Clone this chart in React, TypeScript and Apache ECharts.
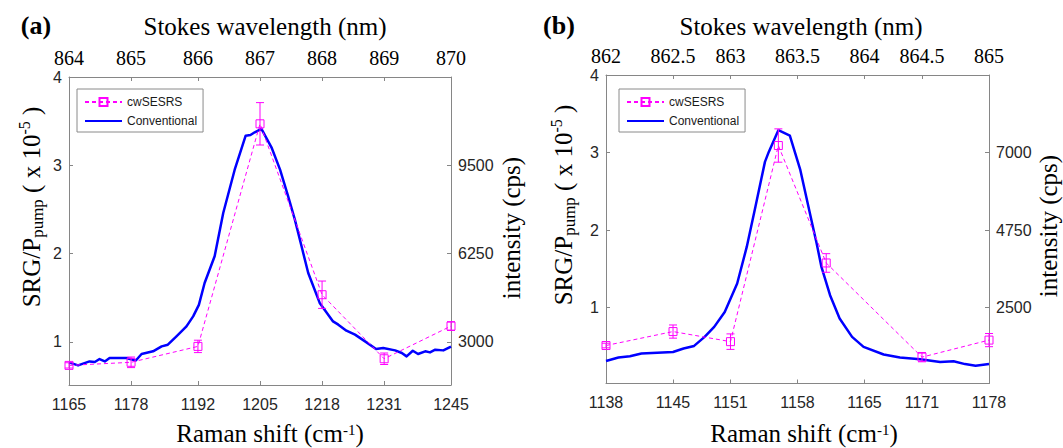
import React, { useEffect, useRef } from 'react';
import * as echarts from 'echarts';

// ---------- Panel (a) ----------
const ramanTicksA = [1165, 1178, 1192, 1205, 1218, 1231, 1245];
const wavelengthLabelsA = ['864', '865', '866', '867', '868', '869', '870'];
const leftTicksA = [1, 2, 3, 4];
const rightTicksA = [3000, 6250, 9500];

const cwRamanA = [1165, 1178, 1192, 1205, 1218, 1231, 1245];
const cwValueA = [0.735, 0.77, 0.95, 3.47, 1.535, 0.81, 1.18];
const cwErrA = [0.03, 0.06, 0.07, 0.24, 0.155, 0.065, 0.05];

const convRamanA = [1165.0, 1166.9, 1169.3, 1170.4, 1171.4, 1172.5, 1173.5, 1177.0, 1179.0, 1180.2, 1182.6, 1184.4, 1185.7, 1187.5, 1189.6, 1191.0, 1192.2, 1193.4, 1195.5, 1197.3, 1199.7, 1202.0, 1203.0, 1203.9, 1205.3, 1207.4, 1209.2, 1210.9, 1212.3, 1213.7, 1215.1, 1217.5, 1220.3, 1221.4, 1223.1, 1224.9, 1227.0, 1229.3, 1230.8, 1233.3, 1234.7, 1235.7, 1237.0, 1238.1, 1239.6, 1240.6, 1241.7, 1243.4, 1245.0];
const convCpsA = [2249, 2139, 2285, 2262, 2373, 2285, 2412, 2412, 2318, 2558, 2656, 2838, 2899, 3205, 3575, 3943, 4365, 5171, 6153, 7745, 9338, 10592, 10618, 10716, 10839, 10163, 9341, 8359, 7501, 6520, 5538, 4437, 3757, 3637, 3416, 3270, 3023, 2743, 2779, 2691, 2594, 2470, 2678, 2558, 2656, 2617, 2717, 2691, 2830];

// ---------- Panel (b) ----------
const ramanTicksB = [1138, 1145, 1151, 1158, 1165, 1171, 1178];
const wavelengthLabelsB = ['862', '862.5', '863', '863.5', '864', '864.5', '865'];
const leftTicksB = [1, 2, 3, 4];
const rightTicksB = [2500, 4750, 7000];

const cwRamanB = [1138, 1145, 1151, 1156, 1161, 1171, 1178];
const cwValueB = [0.51, 0.69, 0.56, 3.09, 1.575, 0.36, 0.58];
const cwErrB = [0.03, 0.085, 0.1, 0.215, 0.12, 0.06, 0.085];

const convRamanB = [1138.0, 1139.3, 1140.5, 1141.7, 1142.8, 1145.0, 1146.1, 1147.2, 1148.3, 1149.3, 1150.4, 1151.7, 1152.7, 1153.6, 1154.6, 1155.0, 1156.0, 1157.2, 1158.3, 1159.3, 1160.0, 1160.5, 1161.4, 1162.4, 1163.7, 1164.9, 1167.0, 1168.7, 1170.8, 1172.9, 1174.3, 1175.5, 1176.6, 1178.0];
const convCpsB = [950, 1049, 1087, 1164, 1182, 1211, 1310, 1386, 1647, 1938, 2372, 3198, 4260, 5421, 6728, 7018, 7648, 7493, 6487, 5229, 4359, 3679, 2858, 2181, 1647, 1357, 1137, 1049, 999, 921, 941, 858, 813, 858];

// ---------- Styles ----------
const AXIS_COLOR = '#868686';
const LABEL_COLOR = '#262626';
const MAGENTA = '#ff00ff';
const BLUE = '#0000ff';
const SANS = "'Liberation Sans', Arial, sans-serif";
const SERIF = "'Liberation Serif', 'Times New Roman', serif";

const axisLine = { show: true, onZero: false, lineStyle: { color: AXIS_COLOR, width: 1 } };
const plain = (v: number) => String(v);

function bottomAxis(grid: number, min: number, max: number, ticks: number[]) {
  return {
    type: 'value', gridIndex: grid, position: 'bottom', min, max,
    axisLine,
    axisTick: { show: true, inside: true, length: 4, customValues: ticks, lineStyle: { color: AXIS_COLOR } },
    axisLabel: { show: true, customValues: ticks, formatter: plain, margin: 11, fontSize: 16, fontFamily: SANS, color: LABEL_COLOR },
    splitLine: { show: false },
  };
}

function topAxis(grid: number, min: number, max: number, ticks: number[], labels: string[]) {
  return {
    type: 'value', gridIndex: grid, position: 'top', min, max,
    axisLine,
    axisTick: { show: true, inside: true, length: 4, customValues: ticks, lineStyle: { color: AXIS_COLOR } },
    axisLabel: {
      show: true, customValues: ticks, margin: 9, fontSize: 20, fontFamily: SERIF, color: '#000',
      formatter: (v: number) => {
        const i = ticks.findIndex((t) => Math.abs(t - v) < 1e-6);
        return i >= 0 ? labels[i] : '';
      },
    },
    splitLine: { show: false },
  };
}

function yAxisDef(grid: number, pos: 'left' | 'right', min: number, max: number, ticks: number[]) {
  return {
    type: 'value', gridIndex: grid, position: pos, min, max,
    axisLine,
    axisTick: { show: true, inside: true, length: 4, customValues: ticks, lineStyle: { color: AXIS_COLOR } },
    axisLabel: { show: true, customValues: ticks, formatter: plain, margin: 7, fontSize: 16, fontFamily: SANS, color: LABEL_COLOR },
    splitLine: { show: false },
  };
}

const errRender = (params: any, api: any) => {
  const x = api.value(0);
  const y = api.value(1);
  const e = api.value(2);
  const p1 = api.coord([x, y + e]);
  const p2 = api.coord([x, y - e]);
  const w = 4;
  const style = { stroke: MAGENTA, lineWidth: 1 };
  return {
    type: 'group',
    children: [
      { type: 'line', shape: { x1: p1[0], y1: p1[1], x2: p2[0], y2: p2[1] }, style },
      { type: 'line', shape: { x1: p1[0] - w, y1: p1[1], x2: p1[0] + w, y2: p1[1] }, style },
      { type: 'line', shape: { x1: p2[0] - w, y1: p2[1], x2: p2[0] + w, y2: p2[1] }, style },
    ],
  };
};

function panelSeries(xIdx: number, yLeft: number, yRight: number, cwR: number[], cwV: number[], cwE: number[], convR: number[], convC: number[]) {
  return [
    {
      name: 'Conventional', type: 'line', xAxisIndex: xIdx, yAxisIndex: yRight,
      data: convR.map((r, i) => [r, convC[i]]),
      symbol: 'none', lineStyle: { color: BLUE, width: 2.5, join: 'round' }, itemStyle: { color: BLUE },
      silent: true, z: 2,
    },
    {
      name: 'cwSESRS', type: 'line', xAxisIndex: xIdx, yAxisIndex: yLeft,
      data: cwR.map((r, i) => [r, cwV[i]]),
      symbol: 'rect', symbolSize: 8,
      lineStyle: { color: MAGENTA, width: 1, type: [4, 3] },
      itemStyle: { color: 'rgba(255,255,255,0)', borderColor: MAGENTA, borderWidth: 1 },
      silent: true, z: 3,
    },
    {
      type: 'custom', xAxisIndex: xIdx, yAxisIndex: yLeft,
      data: cwR.map((r, i) => [r, cwV[i], cwE[i]]),
      encode: { x: 0, y: 1 },
      renderItem: errRender, silent: true, z: 3,
    },
  ];
}

const legendBase = {
  orient: 'vertical',
  data: [
    { name: 'cwSESRS' },
    { name: 'Conventional', itemStyle: { opacity: 0, color: 'rgba(0,0,0,0)', borderWidth: 0 } },
  ],
  itemWidth: 37, itemHeight: 10, itemGap: 7,
  padding: [7, 6, 5, 7],
  borderColor: '#8a8a8a', borderWidth: 1, backgroundColor: '#fff',
  textStyle: { fontFamily: SANS, fontSize: 12, color: '#1a1a1a' },
  selectedMode: false,
};

const leftTitleRich = {
  m: { fontFamily: SERIF, fontSize: 25, lineHeight: 30, verticalAlign: 'middle', fill: '#000' },
  sub: { fontFamily: SERIF, fontSize: 17, lineHeight: 17, verticalAlign: 'bottom', fill: '#000' },
  sup: { fontFamily: SERIF, fontSize: 16, lineHeight: 16, verticalAlign: 'top', fill: '#000' },
};

const ramanRich = {
  m: { fontFamily: SERIF, fontSize: 25, lineHeight: 24, verticalAlign: 'bottom', fill: '#000' },
  sup: { fontFamily: SERIF, fontSize: 15, lineHeight: 15, verticalAlign: 'top', fill: '#000' },
};

function txt(x: number, y: number, text: string, font: string, rotation = 0) {
  return {
    type: 'text', x, y, rotation, silent: true,
    style: { text, font, fill: '#000', align: 'center', verticalAlign: 'middle' },
  };
}

function richTxt(x: number, y: number, text: string, rich: any, rotation = 0) {
  return {
    type: 'text', x, y, rotation, silent: true,
    style: { text, rich, fill: '#000', align: 'center', verticalAlign: 'middle', font: `25px ${SERIF}` },
  };
}

const option: any = {
  animation: false,
  backgroundColor: '#fff',
  grid: [
    { left: 69, top: 77, right: 612, bottom: 63 },
    { left: 606, top: 75, right: 74, bottom: 64.5 },
  ],
  xAxis: [
    bottomAxis(0, 1165, 1245, ramanTicksA),
    topAxis(0, 1165, 1245, ramanTicksA, wavelengthLabelsA),
    bottomAxis(1, 1138, 1178, ramanTicksB),
    topAxis(1, 1138, 1178, ramanTicksB, wavelengthLabelsB),
  ],
  yAxis: [
    yAxisDef(0, 'left', 0.513, 4, leftTicksA),
    yAxisDef(0, 'right', 1417, 12750, rightTicksA),
    yAxisDef(1, 'left', 0.02, 4, leftTicksB),
    yAxisDef(1, 'right', 295, 9250, rightTicksB),
  ],
  legend: [
    { ...legendBase, left: 77, top: 89 },
    { ...legendBase, left: 619, top: 89 },
  ],
  series: [
    ...panelSeries(0, 0, 1, cwRamanA, cwValueA, cwErrA, convRamanA, convCpsA),
    ...panelSeries(2, 2, 3, cwRamanB, cwValueB, cwErrB, convRamanB, convCpsB),
  ],
  graphic: [
    txt(36, 25, '(a)', `bold 26px ${SERIF}`),
    txt(559, 25, '(b)', `bold 26px ${SERIF}`),
    txt(265, 26, 'Stokes wavelength (nm)', `25px ${SERIF}`),
    txt(801, 26, 'Stokes wavelength (nm)', `25px ${SERIF}`),
    richTxt(270, 434, '{m|Raman shift (cm}{sup|-1}{m|)}', ramanRich),
    richTxt(804, 434, '{m|Raman shift (cm}{sup|-1}{m|)}', ramanRich),
    richTxt(31, 207, '{m|SRG/P}{sub|pump}{m| ( x 10}{sup|-5}{m| )}', leftTitleRich, Math.PI / 2),
    richTxt(563, 205, '{m|SRG/P}{sub|pump}{m| ( x 10}{sup|-5}{m| )}', leftTitleRich, Math.PI / 2),
    txt(511, 228, 'intensity (cps)', `25px ${SERIF}`, Math.PI / 2),
    txt(1048, 226, 'intensity (cps)', `25px ${SERIF}`, Math.PI / 2),
  ],
};

export default function App() {
  const ref = useRef<HTMLDivElement>(null);
  useEffect(() => {
    if (!ref.current) return;
    const chart = echarts.init(ref.current, undefined, { renderer: 'svg' });
    chart.setOption(option);
    return () => chart.dispose();
  }, []);
  return (
    <div
      ref={ref}
      style={{ position: 'absolute', left: 0, top: 0, width: 1063, height: 448, background: '#fff' }}
    />
  );
}
